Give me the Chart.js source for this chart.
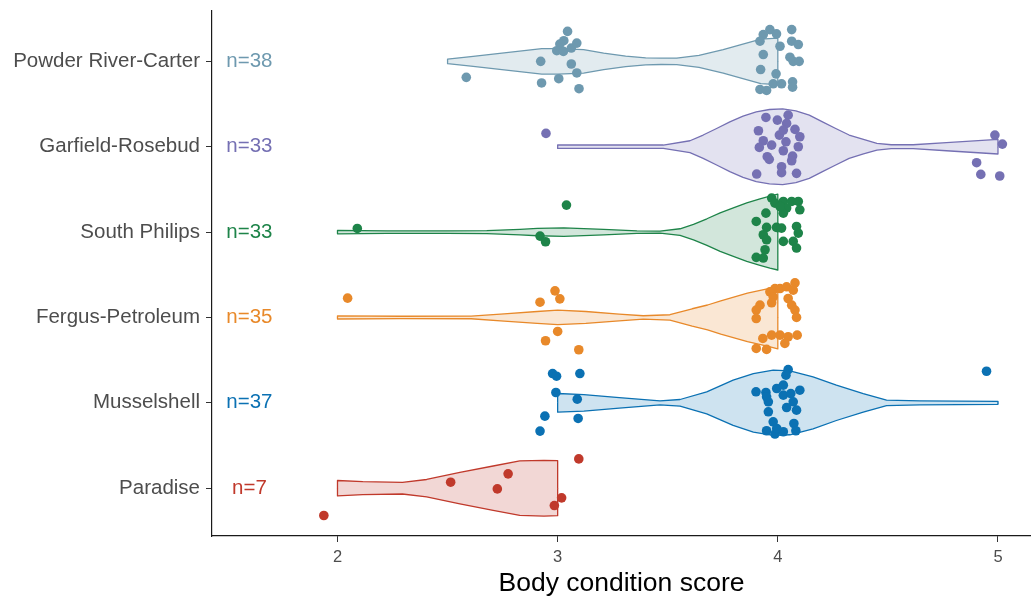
<!DOCTYPE html>
<html lang="en">
<head>
<meta charset="UTF-8">
<title>Body condition score by area</title>
<script src="https://cdn.jsdelivr.net/npm/chart.js"></script>
<style>
  html, body { margin: 0; padding: 0; background: #fff; }
</style>
</head>
<body>

<canvas id="myChart" width="1031" height="601"></canvas>

<script>
    // rows from bottom (1) to top (6)
    const areas = ['Paradise', 'Musselshell', 'Fergus-Petroleum', 'South Philips', 'Garfield-Rosebud', 'Powder River-Carter'];
    const counts = [7, 37, 35, 33, 33, 38];
    const colors = ['#c0392b', '#0b71b3', '#e8892a', '#1e8449', '#7570b3', '#6e99af'];
    const xTicks = [2, 3, 4, 5];
    const nLabelX = 1.6;

    // violin outlines: score and half width (row units)
    const paradiseShapeX = [2.0, 2.115, 2.295, 2.405, 2.556, 2.707, 2.828, 2.938, 3.0];
    const paradiseShapeW = [0.090, 0.076, 0.068, 0.102, 0.185, 0.260, 0.319, 0.327, 0.322];
    const musselShapeX = [3.0, 3.119, 3.28, 3.465, 3.556, 3.677, 3.797, 3.889, 3.979, 4.055, 4.16, 4.266, 4.388, 4.494, 4.645, 5.0];
    const musselShapeW = [0.109, 0.097, 0.062, 0.023, 0.039, 0.129, 0.265, 0.343, 0.382, 0.374, 0.304, 0.207, 0.109, 0.032, 0.023, 0.018];
    const fergusShapeX = [2.0, 2.286, 2.607, 2.757, 2.907, 3.0, 3.128, 3.279, 3.389, 3.51, 3.611, 3.681, 3.741, 3.862, 3.952, 4.0];
    const fergusShapeW = [0.018, 0.014, 0.015, 0.043, 0.070, 0.085, 0.070, 0.039, 0.020, 0.032, 0.102, 0.146, 0.195, 0.284, 0.336, 0.368];
    const southShapeX = [2.0, 2.225, 2.496, 2.678, 2.829, 2.908, 3.028, 3.209, 3.36, 3.465, 3.556, 3.617, 3.678, 3.738, 3.798, 3.859, 3.919, 3.964, 4.0];
    const southShapeW = [0.020, 0.014, 0.014, 0.018, 0.032, 0.043, 0.050, 0.032, 0.014, 0.012, 0.039, 0.090, 0.156, 0.226, 0.284, 0.343, 0.389, 0.421, 0.444];
    const garfieldShapeX = [3.0, 3.209, 3.48, 3.601, 3.661, 3.722, 3.782, 3.842, 3.902, 3.962, 4.022, 4.082, 4.143, 4.203, 4.263, 4.324, 4.389, 4.45, 4.515, 4.615, 4.766, 5.0];
    const garfieldShapeW = [0.020, 0.020, 0.020, 0.070, 0.137, 0.214, 0.292, 0.359, 0.409, 0.436, 0.444, 0.421, 0.371, 0.292, 0.214, 0.137, 0.085, 0.039, 0.023, 0.023, 0.047, 0.085];
    const powderShapeX = [2.5, 2.606, 2.757, 2.928, 3.0, 3.118, 3.209, 3.309, 3.4, 3.47, 3.541, 3.642, 3.752, 3.833, 3.923, 4.0];
    const powderShapeW = [0.027, 0.056, 0.099, 0.149, 0.149, 0.137, 0.097, 0.062, 0.041, 0.037, 0.039, 0.070, 0.137, 0.195, 0.261, 0.273];

    // jittered observations: score and vertical offset from the row
    const paradiseX = [1.938, 2.514, 2.775, 2.726, 3.096, 3.018, 2.985];
    const paradiseJit = [-0.320, 0.070, 0.168, -0.008, 0.343, -0.113, -0.203];
    const musselX = [2.977, 2.995, 3.101, 2.992, 3.089, 2.942, 3.093, 2.920, 4.948, 4.047, 4.037, 3.901, 3.946, 3.995, 4.025, 4.025, 4.059, 4.100, 3.957, 3.957, 4.070, 4.040, 4.085, 3.979, 4.073, 3.949, 3.987, 4.025, 4.082, 3.995, 3.949];
    const musselJit = [0.343, 0.312, 0.343, 0.121, 0.043, -0.156, -0.183, -0.331, 0.370, 0.390, 0.324, 0.129, 0.121, 0.168, 0.207, 0.090, 0.109, 0.148, 0.012, -0.105, 0.012, -0.055, -0.086, -0.222, -0.242, -0.327, -0.366, -0.339, -0.327, -0.300, 0.070];
    const fergusX = [2.046, 2.988, 3.010, 2.920, 3.000, 2.945, 3.096, 3.987, 3.964, 4.010, 4.040, 4.078, 4.070, 3.979, 4.047, 3.972, 3.919, 4.063, 3.902, 4.078, 3.902, 4.085, 3.972, 4.010, 4.047, 4.088, 3.932, 4.032, 3.902, 3.949];
    const fergusJit = [0.226, 0.312, 0.218, 0.179, -0.164, -0.273, -0.378, 0.339, 0.300, 0.339, 0.359, 0.405, 0.320, 0.242, 0.222, 0.172, 0.144, 0.144, 0.086, 0.086, -0.012, 0, -0.207, -0.207, -0.226, -0.207, -0.246, -0.304, -0.363, -0.374];
    const southX = [2.090, 3.040, 2.920, 2.945, 3.972, 3.987, 4.025, 4.063, 4.093, 4.040, 4.100, 3.946, 4.025, 3.902, 3.949, 3.994, 4.017, 4.085, 4.093, 3.934, 3.949, 4.025, 4.070, 4.085, 3.942, 3.902, 3.934, 4.010];
    const southJit = [0.043, 0.316, -0.047, -0.113, 0.398, 0.339, 0.359, 0.359, 0.359, 0.281, 0.261, 0.222, 0.222, 0.125, 0.055, 0.055, 0.047, 0.066, -0.012, -0.031, -0.090, -0.109, -0.109, -0.187, -0.207, -0.296, -0.304, 0.300];
    const garfieldX = [2.947, 3.946, 3.998, 4.047, 4.040, 3.912, 4.007, 4.078, 4.100, 3.934, 4.037, 3.916, 4.093, 4.025, 3.952, 4.067, 4.063, 3.961, 4.017, 4.017, 3.904, 4.085, 4.025, 3.972, 4.986, 5.020, 4.903, 4.922, 5.008];
    const garfieldJit = [0.156, 0.343, 0.312, 0.370, 0.273, 0.187, 0.136, 0.203, 0.117, 0.070, 0.058, -0.008, 0, -0.047, -0.117, -0.109, -0.164, -0.148, -0.234, -0.304, -0.320, -0.312, 0.195, 0.019, 0.136, 0.031, -0.187, -0.324, -0.343];
    const powderX = [3.045, 3.028, 3.010, 2.996, 3.026, 3.062, 3.087, 2.923, 3.062, 3.087, 2.927, 3.005, 3.097, 2.585,
                     3.964, 3.934, 3.994, 3.919, 4.063, 4.063, 4.093, 4.010, 3.934, 4.055, 4.070, 4.097, 3.922, 3.992, 3.979, 4.017, 4.067, 4.067, 3.919, 3.949];
    const powderJit = [0.351, 0.242, 0.203, 0.125, 0.117, 0.156, 0.214, 0, -0.031, -0.136, -0.253, -0.203, -0.320, -0.187,
                       0.372, 0.314, 0.322, 0.236, 0.372, 0.236, 0.197, 0.177, 0.080, 0.049, 0, 0, -0.096, -0.146, -0.263, -0.263, -0.240, -0.302, -0.329, -0.341];

    const groups = [
        { sx: paradiseShapeX, sw: paradiseShapeW, px: paradiseX, pj: paradiseJit },
        { sx: musselShapeX, sw: musselShapeW, px: musselX, pj: musselJit },
        { sx: fergusShapeX, sw: fergusShapeW, px: fergusX, pj: fergusJit },
        { sx: southShapeX, sw: southShapeW, px: southX, pj: southJit },
        { sx: garfieldShapeX, sw: garfieldShapeW, px: garfieldX, pj: garfieldJit },
        { sx: powderShapeX, sw: powderShapeW, px: powderX, pj: powderJit }
    ];

    function withAlpha(hex, a) {
        const n = parseInt(hex.slice(1), 16);
        return 'rgba(' + (n >> 16) + ',' + ((n >> 8) & 255) + ',' + (n & 255) + ',' + a + ')';
    }

    const datasets = [];
    groups.forEach((g, i) => {
        const row = i + 1;
        const last = g.sx.length - 1;
        const upper = [{ x: g.sx[0], y: row }];
        const lower = [{ x: g.sx[0], y: row }];
        g.sx.forEach((x, k) => {
            upper.push({ x: x, y: row + g.sw[k] });
            lower.push({ x: x, y: row - g.sw[k] });
        });
        upper.push({ x: g.sx[last], y: row });
        lower.push({ x: g.sx[last], y: row });

        const idx = datasets.length;
        datasets.push({
            type: 'line', data: upper, borderColor: colors[i], borderWidth: 1.3,
            pointRadius: 0, tension: 0, fill: false, order: 2, borderJoinStyle: 'round'
        });
        datasets.push({
            type: 'line', data: lower, borderColor: colors[i], borderWidth: 1.3,
            pointRadius: 0, tension: 0, fill: idx, backgroundColor: withAlpha(colors[i], 0.2),
            order: 2, borderJoinStyle: 'round'
        });
    });
    groups.forEach((g, i) => {
        datasets.push({
            type: 'scatter',
            data: g.px.map((x, k) => ({ x: x, y: i + 1 + g.pj[k] })),
            backgroundColor: colors[i],
            pointRadius: 4.8,
            pointBorderWidth: 0,
            order: 1
        });
    });

    // n= labels at the left of each row
    const nLabels = {
        id: 'nLabels',
        afterDatasetsDraw(chart) {
            const { ctx, scales } = chart;
            ctx.save();
            ctx.font = '20.5px "Liberation Sans", Arial, sans-serif';
            ctx.textAlign = 'center';
            ctx.textBaseline = 'middle';
            counts.forEach((n, i) => {
                ctx.fillStyle = colors[i];
                ctx.fillText('n=' + n, scales.x.getPixelForValue(nLabelX), scales.y.getPixelForValue(i + 1));
            });
            ctx.restore();
        }
    };

    Chart.defaults.font.family = '"Liberation Sans", Arial, sans-serif';

    const ctx = document.getElementById('myChart').getContext('2d');
    const chart = new Chart(ctx, {
        type: 'scatter',
        data: { datasets: datasets },
        plugins: [nLabels],
        options: {
            responsive: false,
            animation: false,
            devicePixelRatio: 1,
            layout: { autoPadding: false, padding: { top: 11, left: 0, right: 0, bottom: 0 } },
            plugins: { legend: { display: false }, tooltip: { enabled: false } },
            scales: {
                x: {
                    type: 'linear',
                    min: 1.43,
                    max: 5.15,
                    afterBuildTicks: s => { s.ticks = xTicks.map(v => ({ value: v })); },
                    afterFit: s => { s.height = 65; s.paddingLeft = 0; s.paddingRight = 0; },
                    ticks: { autoSkip: false, maxRotation: 0, color: '#4d4d4d', font: { size: 16.5 }, padding: 5.5 },
                    grid: { display: true, drawOnChartArea: false, drawTicks: true, tickLength: 6, color: '#333333' },
                    border: { display: true, color: '#1a1a1a', width: 1.2 },
                    title: { display: true, text: 'Body condition score', color: '#000', font: { size: 26.5 }, padding: { top: 0, bottom: 1 } }
                },
                y: {
                    type: 'linear',
                    min: 0.44,
                    max: 6.59,
                    afterBuildTicks: s => { s.ticks = areas.map((a, i) => ({ value: i + 1 })); },
                    afterFit: s => { s.width = 212; s.paddingTop = 0; s.paddingBottom = 0; },
                    ticks: { autoSkip: false, color: '#4d4d4d', font: { size: 20.5 }, padding: 6,
                             callback: v => areas[v - 1] },
                    grid: { display: true, drawOnChartArea: false, drawTicks: true, tickLength: 6, color: '#333333' },
                    border: { display: true, color: '#1a1a1a', width: 1.2 }
                }
            }
        }
    });
</script>

</body>
</html>
